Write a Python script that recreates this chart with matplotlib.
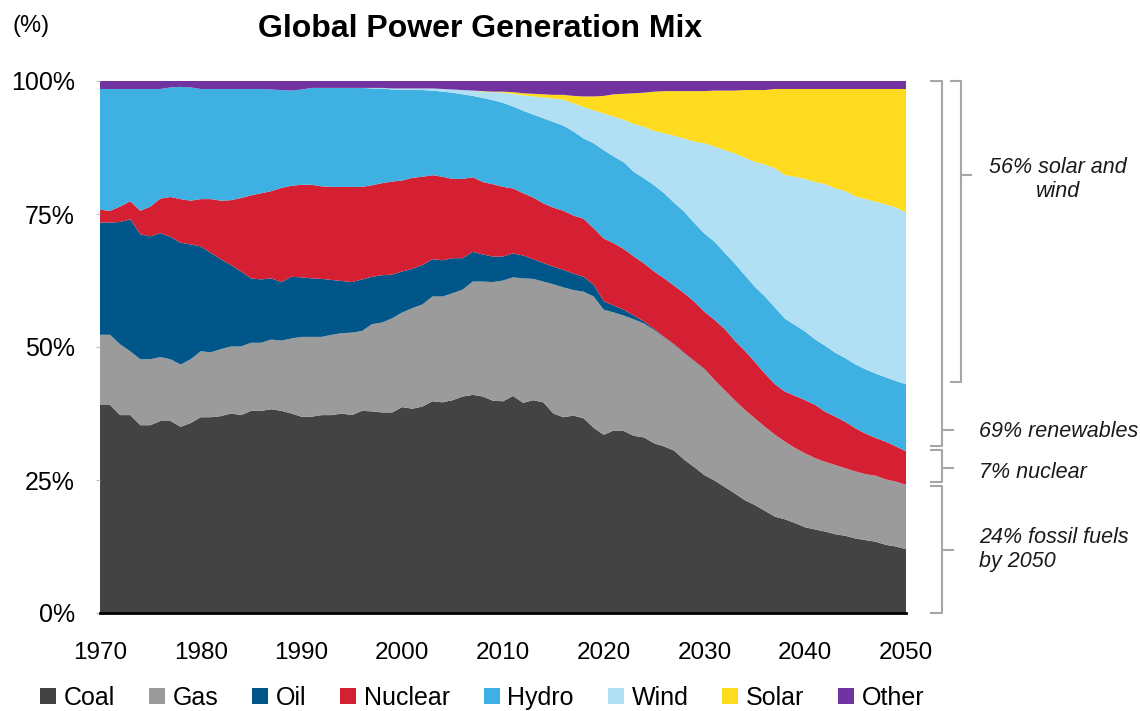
import matplotlib
matplotlib.use("Agg")
import matplotlib.pyplot as plt

plt.rcParams["font.family"] = ["Liberation Sans", "DejaVu Sans"]

# ---------------------------------------------
# Data: share of global power generation (%)
# ---------------------------------------------
years = list(range(1970, 2051))

coal = [
    39.1, 39.1, 37.2, 37.2, 35.3, 35.3, 36.1, 36.1, 35.0, 35.7,
    36.8, 36.8, 37.0, 37.5, 37.2, 38.0, 38.0, 38.3, 38.0, 37.5,
    36.9, 36.9, 37.2, 37.2, 37.5, 37.2, 38.0, 37.9, 37.7, 37.7,
    38.7, 38.4, 38.8, 39.8, 39.6, 40.0, 40.7, 41.0, 40.7, 39.9,
    39.8, 40.8, 39.5, 40.0, 39.6, 37.5, 36.8, 37.1, 36.6, 34.8,
    33.5, 34.3, 34.2, 33.3, 33.0, 31.9, 31.3, 30.5, 28.8, 27.4,
    25.9, 24.9, 23.7, 22.5, 21.2, 20.3, 19.2, 18.1, 17.6, 16.9,
    16.1, 15.7, 15.3, 14.8, 14.5, 14.0, 13.7, 13.4, 12.8, 12.5,
    12.0]

gas = [
    13.2, 13.2, 13.3, 12.0, 12.4, 12.4, 12.0, 11.6, 11.7, 12.0,
    12.4, 12.2, 12.6, 12.6, 12.9, 12.8, 12.8, 13.1, 13.2, 14.1,
    15.0, 15.0, 14.7, 15.1, 15.1, 15.5, 15.0, 16.4, 16.9, 17.7,
    17.8, 18.9, 19.2, 19.7, 19.9, 20.1, 20.1, 21.3, 21.6, 22.3,
    22.7, 22.3, 23.4, 22.8, 22.7, 24.3, 24.4, 23.6, 23.8, 24.7,
    23.5, 22.2, 21.7, 21.9, 21.4, 21.3, 20.5, 19.9, 20.0, 19.9,
    19.9, 18.9, 18.2, 17.5, 17.0, 16.3, 15.8, 15.4, 14.6, 14.1,
    13.9, 13.4, 13.1, 13.0, 12.7, 12.6, 12.4, 12.4, 12.3, 12.2,
    12.1]

oil = [
    21.1, 21.1, 23.0, 24.8, 23.5, 23.1, 23.3, 23.0, 22.9, 21.6,
    19.7, 18.7, 16.9, 15.3, 14.1, 12.1, 11.9, 11.5, 11.0, 11.6,
    11.2, 11.0, 10.9, 10.3, 9.8, 9.5, 9.7, 8.9, 8.9, 8.2,
    7.7, 7.4, 7.4, 7.0, 6.8, 6.6, 5.9, 5.6, 5.1, 4.8,
    4.5, 4.5, 4.3, 3.7, 3.5, 3.3, 3.3, 3.1, 2.8, 2.2,
    1.6, 1.3, 1.1, 0.7, 0.4, 0.2, 0.1, 0.1, 0.1, 0.1,
    0.1, 0.0, 0.0, 0.0, 0.0, 0.0, 0.0, 0.0, 0.0, 0.0,
    0.0, 0.0, 0.0, 0.0, 0.0, 0.0, 0.0, 0.0, 0.0, 0.0,
    0.0]

nuclear = [
    2.4, 2.2, 2.9, 3.4, 4.4, 5.6, 6.5, 7.5, 8.2, 8.2,
    8.9, 10.1, 11.0, 12.2, 13.8, 15.6, 16.2, 16.4, 17.7, 17.1,
    17.4, 17.6, 17.4, 17.5, 17.7, 17.9, 17.4, 17.2, 17.3, 17.5,
    17.1, 17.1, 16.6, 15.8, 15.7, 14.9, 14.9, 14.0, 13.6, 13.6,
    13.1, 12.2, 11.7, 11.6, 11.2, 11.1, 11.1, 10.9, 10.9, 10.6,
    11.8, 11.7, 11.4, 11.1, 10.9, 10.8, 11.0, 11.0, 11.2, 11.1,
    10.7, 11.3, 11.5, 11.2, 11.1, 10.6, 10.0, 9.5, 9.4, 9.8,
    10.0, 10.0, 9.4, 9.1, 8.7, 8.1, 7.6, 7.1, 7.1, 6.6,
    6.3]

hydro = [
    22.7, 22.9, 22.1, 21.1, 22.9, 22.1, 20.6, 20.6, 21.1, 21.3,
    20.7, 20.7, 21.0, 20.9, 20.5, 20.0, 19.6, 19.1, 18.4, 17.9,
    17.9, 18.2, 18.5, 18.6, 18.6, 18.6, 18.6, 18.2, 17.8, 17.3,
    17.1, 16.5, 16.3, 15.9, 16.0, 16.2, 15.9, 15.3, 15.8, 15.8,
    15.8, 15.4, 15.5, 15.6, 16.0, 16.1, 16.0, 15.8, 15.1, 16.0,
    16.6, 16.3, 16.3, 15.9, 16.0, 16.2, 16.0, 15.6, 15.3, 14.8,
    14.7, 14.7, 14.3, 14.5, 14.2, 14.1, 14.5, 14.4, 13.7, 13.3,
    12.9, 12.3, 12.4, 12.0, 12.0, 12.0, 12.1, 12.1, 12.1, 12.3,
    12.6]

wind = [
    0.0, 0.0, 0.0, 0.0, 0.0, 0.0, 0.0, 0.0, 0.0, 0.0,
    0.0, 0.0, 0.0, 0.0, 0.0, 0.0, 0.0, 0.0, 0.0, 0.0,
    0.0, 0.0, 0.0, 0.0, 0.0, 0.0, 0.0, 0.1, 0.1, 0.2,
    0.2, 0.3, 0.3, 0.4, 0.5, 0.6, 0.8, 1.0, 1.2, 1.5,
    1.9, 2.4, 2.9, 3.4, 3.9, 4.4, 4.9, 5.3, 5.9, 6.2,
    6.9, 7.5, 8.0, 9.0, 9.7, 10.2, 11.3, 12.6, 13.8, 15.3,
    17.0, 17.9, 19.3, 20.7, 22.1, 23.5, 24.8, 26.2, 27.0, 27.9,
    28.7, 29.6, 30.4, 30.9, 31.4, 31.6, 32.0, 32.3, 32.5, 32.6,
    32.3]

solar = [
    0.0, 0.0, 0.0, 0.0, 0.0, 0.0, 0.0, 0.0, 0.0, 0.0,
    0.0, 0.0, 0.0, 0.0, 0.0, 0.0, 0.0, 0.0, 0.0, 0.0,
    0.0, 0.0, 0.0, 0.0, 0.0, 0.0, 0.0, 0.0, 0.0, 0.0,
    0.0, 0.0, 0.0, 0.0, 0.0, 0.0, 0.0, 0.0, 0.1, 0.1,
    0.2, 0.3, 0.4, 0.5, 0.6, 0.7, 0.9, 1.4, 2.0, 2.6,
    3.3, 4.2, 4.9, 5.8, 6.4, 7.4, 7.9, 8.4, 8.9, 9.5,
    9.8, 10.5, 11.2, 11.8, 12.7, 13.5, 14.0, 14.9, 16.2, 16.5,
    16.9, 17.5, 17.9, 18.7, 19.2, 20.2, 20.7, 21.2, 21.7, 22.3,
    23.2]

other = [
    1.5, 1.5, 1.5, 1.5, 1.5, 1.5, 1.5, 1.2, 1.1, 1.2,
    1.5, 1.5, 1.5, 1.5, 1.5, 1.5, 1.5, 1.6, 1.7, 1.8,
    1.6, 1.3, 1.3, 1.3, 1.3, 1.3, 1.3, 1.3, 1.3, 1.4,
    1.4, 1.4, 1.4, 1.4, 1.5, 1.6, 1.7, 1.8, 1.9, 2.0,
    2.0, 2.1, 2.3, 2.4, 2.5, 2.6, 2.6, 2.8, 2.9, 2.9,
    2.8, 2.5, 2.4, 2.3, 2.2, 2.0, 1.9, 1.9, 1.9, 1.9,
    1.9, 1.8, 1.8, 1.8, 1.7, 1.7, 1.7, 1.5, 1.5, 1.5,
    1.5, 1.5, 1.5, 1.5, 1.5, 1.5, 1.5, 1.5, 1.5, 1.5,
    1.5]

labels = ["Coal", "Gas", "Oil", "Nuclear", "Hydro", "Wind", "Solar", "Other"]
colors = ["#434343", "#9b9b9b", "#005689", "#d52034",
          "#3eb0e2", "#b1e0f4", "#fedb1e", "#7133a0"]

x_ticks = list(range(1970, 2051, 10))
y_ticks = [0, 25, 50, 75, 100]

# ---------------------------------------------
# Figure
# ---------------------------------------------
fig = plt.figure(figsize=(11.4, 7.11), dpi=100)
ax = fig.add_axes([100 / 1140, 98 / 711, 806 / 1140, 532 / 711])

polys = ax.stackplot(years, coal, gas, oil, nuclear, hydro, wind, solar, other,
                     colors=colors, labels=labels, linewidth=0)

ax.set_xlim(1970, 2050)
ax.set_ylim(0, 100)
ax.set_xticks(x_ticks)
ax.set_yticks(y_ticks)
ax.set_yticklabels([f"{v}%" for v in y_ticks])
ax.tick_params(axis="x", length=0, pad=21, labelsize=17.5)
ax.tick_params(axis="y", length=3, color="#bfbfbf", pad=15, labelsize=18)

for side in ["top", "right", "left"]:
    ax.spines[side].set_visible(False)
ax.spines["bottom"].set_linewidth(2)
ax.spines["bottom"].set_color("black")
ax.spines["bottom"].set_zorder(5)

fig.text(0.421, 1 - 29 / 711, "Global Power Generation Mix",
         ha="center", va="center", fontsize=23, fontweight="bold")
fig.text(12 / 1140, 1 - 26 / 711, "(%)", ha="left", va="center", fontsize=17)

# ---------------------------------------------
# Brackets on the right
# ---------------------------------------------
trans = ax.get_yaxis_transform()
grey = "#a6a6a6"


def bracket(x, x_in, y0, y1, y_mid, x_out):
    ax.plot([x_in, x, x, x_in], [y0, y0, y1, y1], color=grey, lw=1.5,
            transform=trans, clip_on=False, solid_capstyle="butt")
    ax.plot([x, x_out], [y_mid, y_mid], color=grey, lw=1.5,
            transform=trans, clip_on=False, solid_capstyle="butt")


bracket(1.0447, 1.030, 100, 31.4, 34.4, 1.0596)   # renewables
bracket(1.068, 1.0546, 100, 43.5, 82.3, 1.082)    # solar + wind
bracket(1.0447, 1.030, 30.6, 24.6, 27.3, 1.0596)  # nuclear
bracket(1.0447, 1.030, 23.8, 0, 11.9, 1.0596)     # fossil

note = dict(transform=trans, fontsize=15.5, style="italic", color="#1a1a1a",
            va="center", clip_on=False)
ax.text(1.189, 81.5, "56% solar and\nwind", ha="center", linespacing=1.15, **note)
ax.text(1.091, 34.2, "69% renewables", ha="left", **note)
ax.text(1.091, 26.4, "7% nuclear", ha="left", **note)
ax.text(1.091, 11.9, "24% fossil fuels\nby 2050", ha="left", linespacing=1.15, **note)

# ---------------------------------------------
# Legend
# ---------------------------------------------
fig.legend(handles=polys, labels=labels, loc="center",
           bbox_to_anchor=(0.423, 0.0185), ncol=8, frameon=False,
           fontsize=18, handlelength=0.65, handleheight=0.65,
           handletextpad=0.3, columnspacing=1.35, borderaxespad=0)

fig.savefig("out.png", dpi=100)
